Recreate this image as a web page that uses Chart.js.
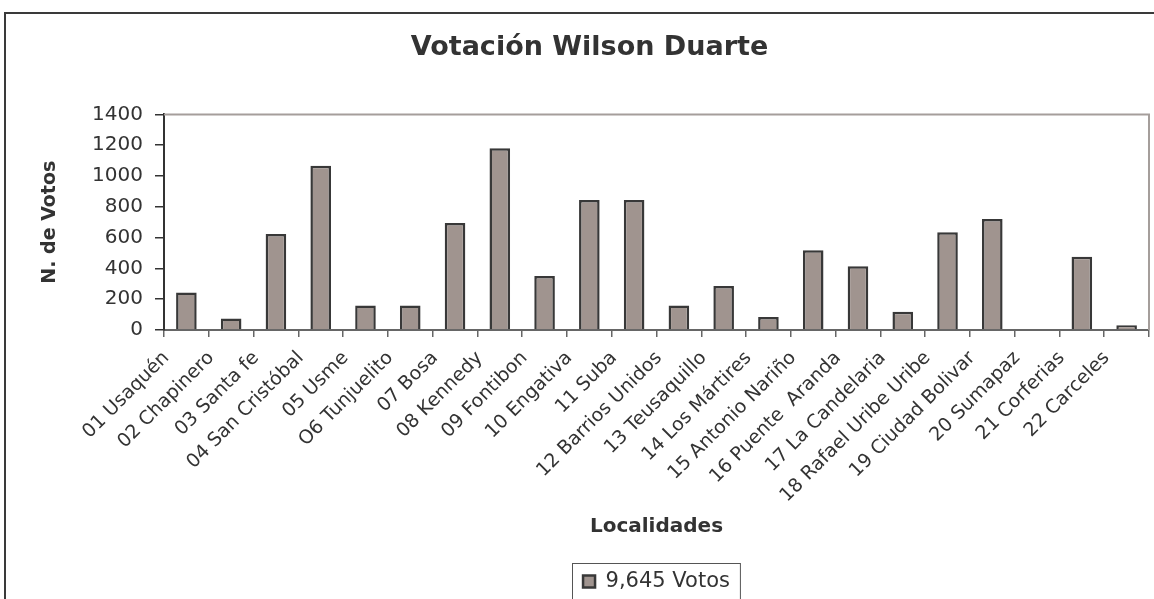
<!DOCTYPE html>
<html>
<head>
<meta charset="utf-8">
<script src="https://cdn.jsdelivr.net/npm/chart.js@4.4.1/dist/chart.umd.min.js"></script>
<style>
html, body { margin: 0; padding: 0; background: #fff; }
#wrap { width: 1154px; height: 599px; }
</style>
</head>
<body>
<div id="wrap"><canvas id="votosChart"></canvas></div>
<script>
const tituloGrafico = 'Votación Wilson Duarte';
const serieLabel = '9,645 Votos';
const localidades = [
    '01 Usaquén', '02 Chapinero', '03 Santa fe', '04 San Cristóbal', '05 Usme',
    'O6 Tunjuelito', '07 Bosa', '08 Kennedy', '09 Fontibon', '10 Engativa',
    '11 Suba', '12 Barrios Unidos', '13 Teusaquillo', '14 Los Mártires',
    '15 Antonio Nariño', '16 Puente  Aranda', '17 La Candelaria',
    '18 Rafael Uribe Uribe', '19 Ciudad Bolivar', '20 Sumapaz', '21 Corferias',
    '22 Carceles'
];
const votos = [243, 75, 623, 1066, 159, 159, 694, 1181, 351, 844, 844, 159, 286, 85, 518, 414, 118, 634, 720, 0, 476, 31];
const yTicks = [0, 200, 400, 600, 800, 1000, 1200, 1400];

const FONT = "'DejaVu Sans', Verdana, sans-serif";
Chart.defaults.font.family = FONT;
Chart.defaults.color = '#333';

// outer frame + plot frame (top / right lines)
const frames = {
    id: 'frames',
    beforeDraw(chart) {
        const c = chart.ctx;
        c.save();
        c.fillStyle = '#fff';
        c.fillRect(0, 0, chart.width, chart.height);
        c.strokeStyle = '#3a3a3a';
        c.lineWidth = 2;
        c.strokeRect(5, 13, chart.width + 50, chart.height + 50);
        c.restore();
    },
    beforeDatasetsDraw(chart) {
        const a = chart.chartArea;
        const c = chart.ctx;
        c.save();
        c.strokeStyle = '#a59e9b';
        c.lineWidth = 2;
        c.beginPath();
        c.moveTo(a.left, a.top);
        c.lineTo(a.right, a.top);
        c.lineTo(a.right, a.bottom);
        c.stroke();
        c.restore();
    },
    afterDraw(chart) {
        // box around legend
        const hb = chart.legend.legendHitBoxes[0];
        if (!hb) return;
        const c = chart.ctx;
        c.save();
        c.strokeStyle = '#555';
        c.lineWidth = 1;
        c.strokeRect(Math.round(hb.left - 11) + 0.5, Math.round(hb.top - 8) + 0.5, hb.width + 21, 60);
        c.restore();
    }
};

new Chart(document.getElementById('votosChart'), {
    type: 'bar',
    data: {
        labels: localidades,
        datasets: [{
            label: serieLabel,
            data: votos,
            backgroundColor: '#a0948f',
            borderColor: '#383838',
            borderWidth: 2.5,
            categoryPercentage: 1,
            barPercentage: 0.46
        }]
    },
    options: {
        responsive: true,
        maintainAspectRatio: false,
        animation: false,
        layout: { padding: { left: 30, right: 5, top: 13, bottom: -3 } },
        plugins: {
            title: {
                display: true,
                text: tituloGrafico,
                font: { size: 27, weight: 'bold' },
                color: '#333',
                padding: { top: 19, bottom: 50 }
            },
            legend: {
                position: 'bottom',
                fullSize: false,
                labels: {
                    boxWidth: 12,
                    boxHeight: 12,
                    padding: 0,
                    font: { size: 21 },
                    color: '#333'
                }
            },
            tooltip: { enabled: false }
        },
        scales: {
            x: {
                grid: {
                    offset: true,
                    drawOnChartArea: false,
                    tickLength: 7,
                    color: '#666',
                    lineWidth: 1.5
                },
                border: { color: '#666', width: 2 },
                ticks: {
                    minRotation: 45,
                    maxRotation: 45,
                    autoSkip: false,
                    font: { size: 19 },
                    color: '#333',
                    labelOffset: -20,
                    padding: 10
                },
                title: {
                    display: true,
                    text: 'Localidades',
                    font: { size: 20, weight: 'bold' },
                    color: '#333',
                    padding: { top: 4, bottom: 32 }
                },
                afterFit(scale) { scale.height = 241; }
            },
            y: {
                min: 0,
                max: 1400,
                afterBuildTicks(scale) { scale.ticks = yTicks.map(v => ({ value: v })); },
                grid: {
                    drawOnChartArea: false,
                    tickLength: 9,
                    color: '#333',
                    lineWidth: 1.5
                },
                border: { color: '#333', width: 2 },
                ticks: {
                    font: { size: 20 },
                    color: '#333',
                    padding: 12,
                    callback: v => String(v)
                },
                title: {
                    display: true,
                    text: 'N. de Votos',
                    font: { size: 19, weight: 'bold' },
                    color: '#333',
                    padding: { top: 9, bottom: 4 }
                },
                afterFit(scale) { scale.width = 134; }
            }
        }
    },
    plugins: [frames]
});
</script>
</body>
</html>
